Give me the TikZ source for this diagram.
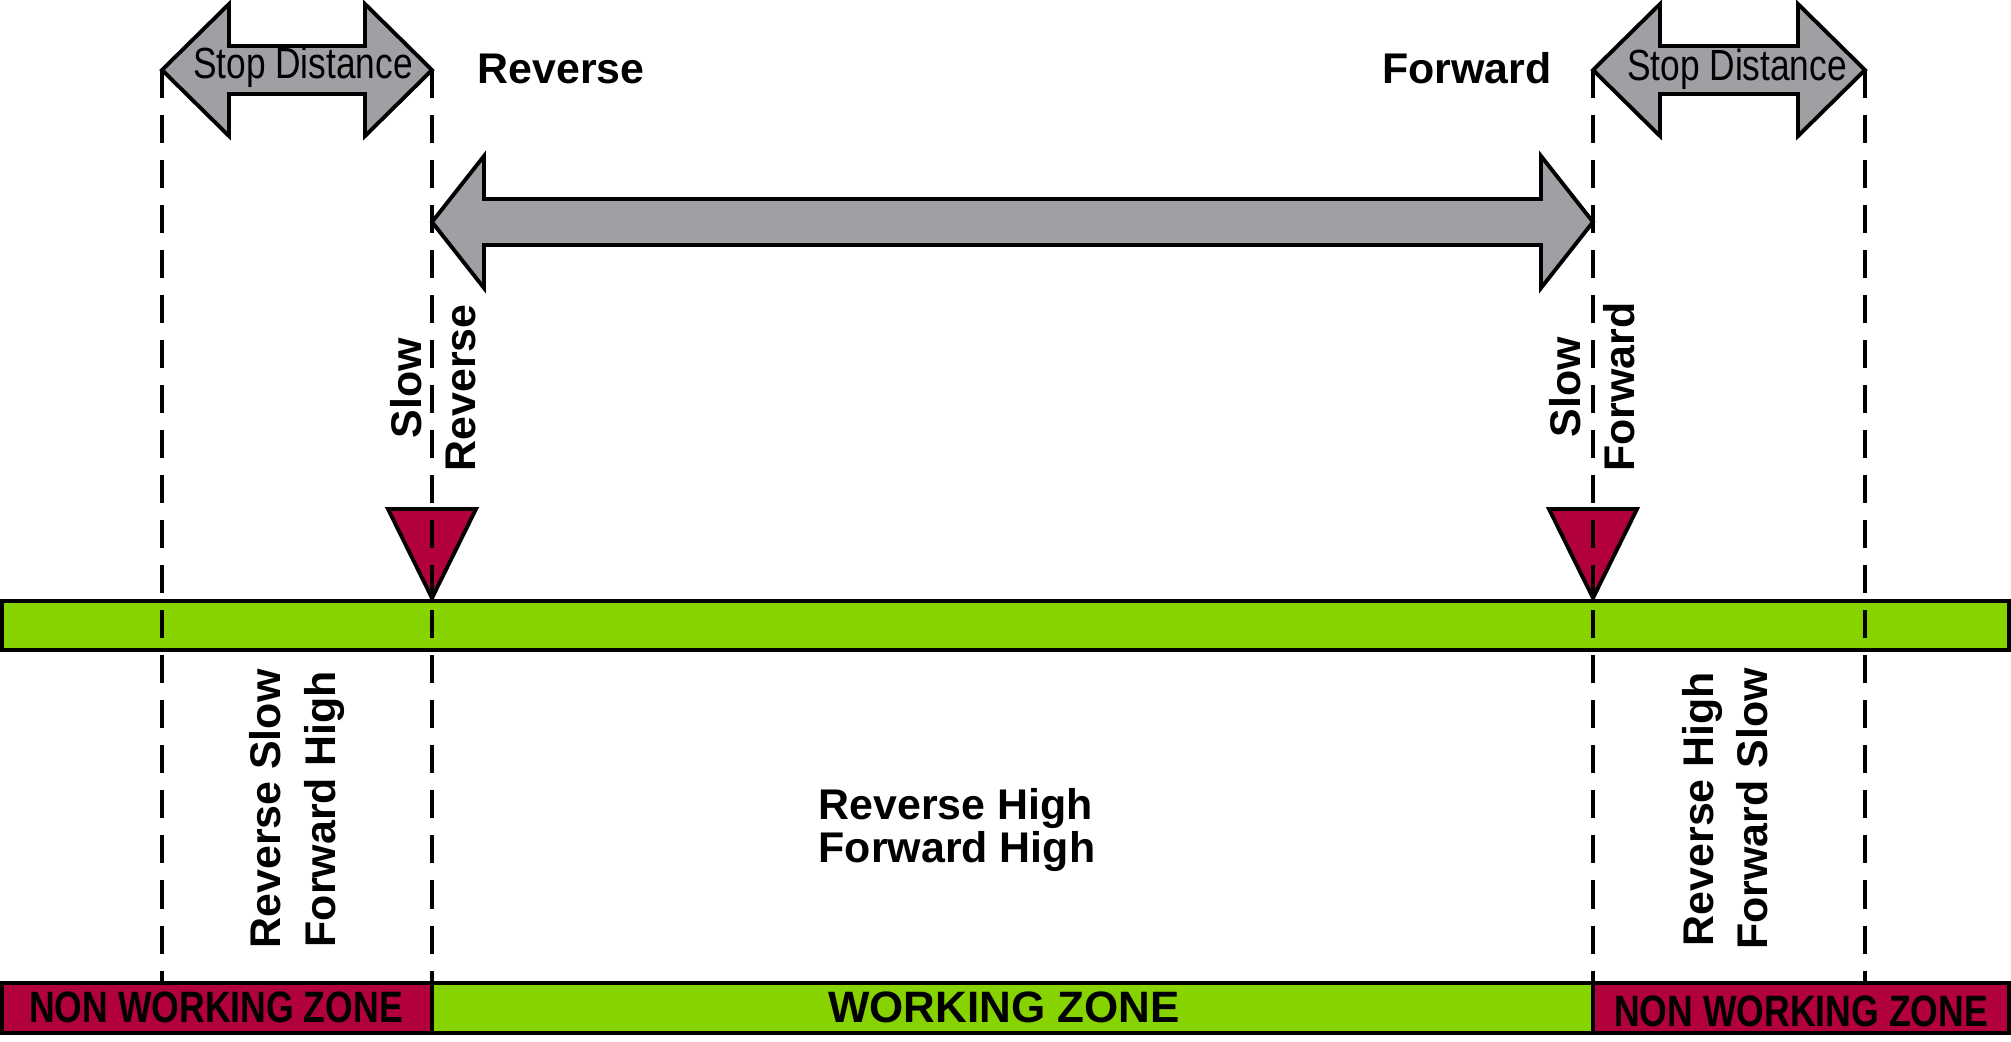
\documentclass[tikz,border=0pt]{standalone}
\usepackage{fontspec}
\setmainfont{Liberation Sans}

\definecolor{zonegreen}{RGB}{134,211,0}
\definecolor{zonered}{RGB}{178,0,62}
\definecolor{arrowgrey}{RGB}{158,160,164}

\begin{document}
\begin{tikzpicture}[x=0.01cm, y=-0.01cm,
		outline/.style={draw, line width=1.1pt, line join=miter},
		guide/.style={line width=1.1pt, dash pattern=on 0.28cm off 0.17cm},
		txt/.style={inner sep=0pt, font=\bfseries\fontsize{12.2pt}{15.4pt}\selectfont},
		flattxt/.style={inner sep=0pt, font=\bfseries\fontsize{12.2pt}{10.8pt}\selectfont},
		stoptxt/.style={inner sep=0pt, font=\fontsize{12.4pt}{14pt}\selectfont},
		zonetxt/.style={inner sep=0pt, font=\bfseries\fontsize{12.5pt}{14pt}\selectfont}]
			\useasboundingbox (0,0) rectangle (2011,1041);
			
			% bars
			\draw[outline, fill=zonegreen] (2,601) rectangle (2009,650);
			\draw[outline, fill=zonered] (2,983) rectangle (432,1033);
			\draw[outline, fill=zonegreen] (432,983) rectangle (1593,1033);
			\draw[outline, fill=zonered] (1593,983) rectangle (2009,1033);
			
			% grey double arrows: left tip / right tip / tip y / head length / half height / half shaft
			\foreach \a/\b/\y/\h/\w/\s in {162/432/70/67/66/24, 1593/1865/70/67/66/24, 432/1593/222/52/66/23}
			{	\draw[outline, fill=arrowgrey] (\a,\y) -- ++(\h,-\w) -- ++(0,\w-\s) -- (\b-\h,\y-\s) -- ++(0,\s-\w) -- (\b,\y)
					-- ++(-\h,\w) -- ++(0,\s-\w) -- (\a+\h,\y+\s) -- ++(0,\w-\s) -- cycle;}
			
			% slow markers
			\foreach \x in {432, 1593}
			{	\draw[outline, fill=zonered] (\x-44,509) -- (\x+44,509) -- (\x,598) -- cycle;}
			
			\coordinate (stopL-top) at (162,70);
			\coordinate (stopL-bot) at (162,983);
			\coordinate (slowrev-top) at (432,70);
			\coordinate (slowrev-bot) at (432,983);
			\coordinate (slowfwd-top) at (1593,70);
			\coordinate (slowfwd-bot) at (1593,983);
			\coordinate (stopR-top) at (1865,70);
			\coordinate (stopR-bot) at (1865,983);
			
			\def\guides {stopL-top/stopL-bot, slowrev-top/slowrev-bot, slowfwd-top/slowfwd-bot, stopR-top/stopR-bot}  % dashed limits
			\foreach \u\v in \guides
			{	\draw[guide] (\u) -- (\v);}
			
			\node[stoptxt, anchor=base] (stopdistL) at (303,78) {\scalebox{0.81}[1]{Stop Distance}};
			\node[stoptxt, anchor=base] (stopdistR) at (1737,80) {\scalebox{0.81}[1]{Stop Distance}};
			\node[txt, anchor=base] (reverse) at (561,83) {Reverse};
			\node[txt, anchor=base] (forward) at (1467,83) {Forward};
			
			\node[txt, rotate=90, align=center] (slowrev) at (433,388) {Slow\\Reverse};
			\node[txt, rotate=90, align=center] (slowfwd) at (1592,387) {Slow\\Forward};
			\node[txt, rotate=90, align=center] (modeL) at (297,809) {Reverse Slow\\Forward High};
			\node[txt, rotate=90, align=center] (modeR) at (1725,809) {Reverse High\\Forward Slow};
			\node[flattxt, align=left] (modeC) at (957,830) {Reverse High\\Forward High};
			
			\node[zonetxt, anchor=base] (nonworkL) at (216,1022) {\scalebox{0.81}[1]{NON WORKING ZONE}};
			\node[zonetxt, anchor=base] (working) at (1004,1022) {WORKING ZONE};
			\node[zonetxt, anchor=base] (nonworkR) at (1801,1026) {\scalebox{0.81}[1]{NON WORKING ZONE}};
		\end{tikzpicture}
\end{document}
